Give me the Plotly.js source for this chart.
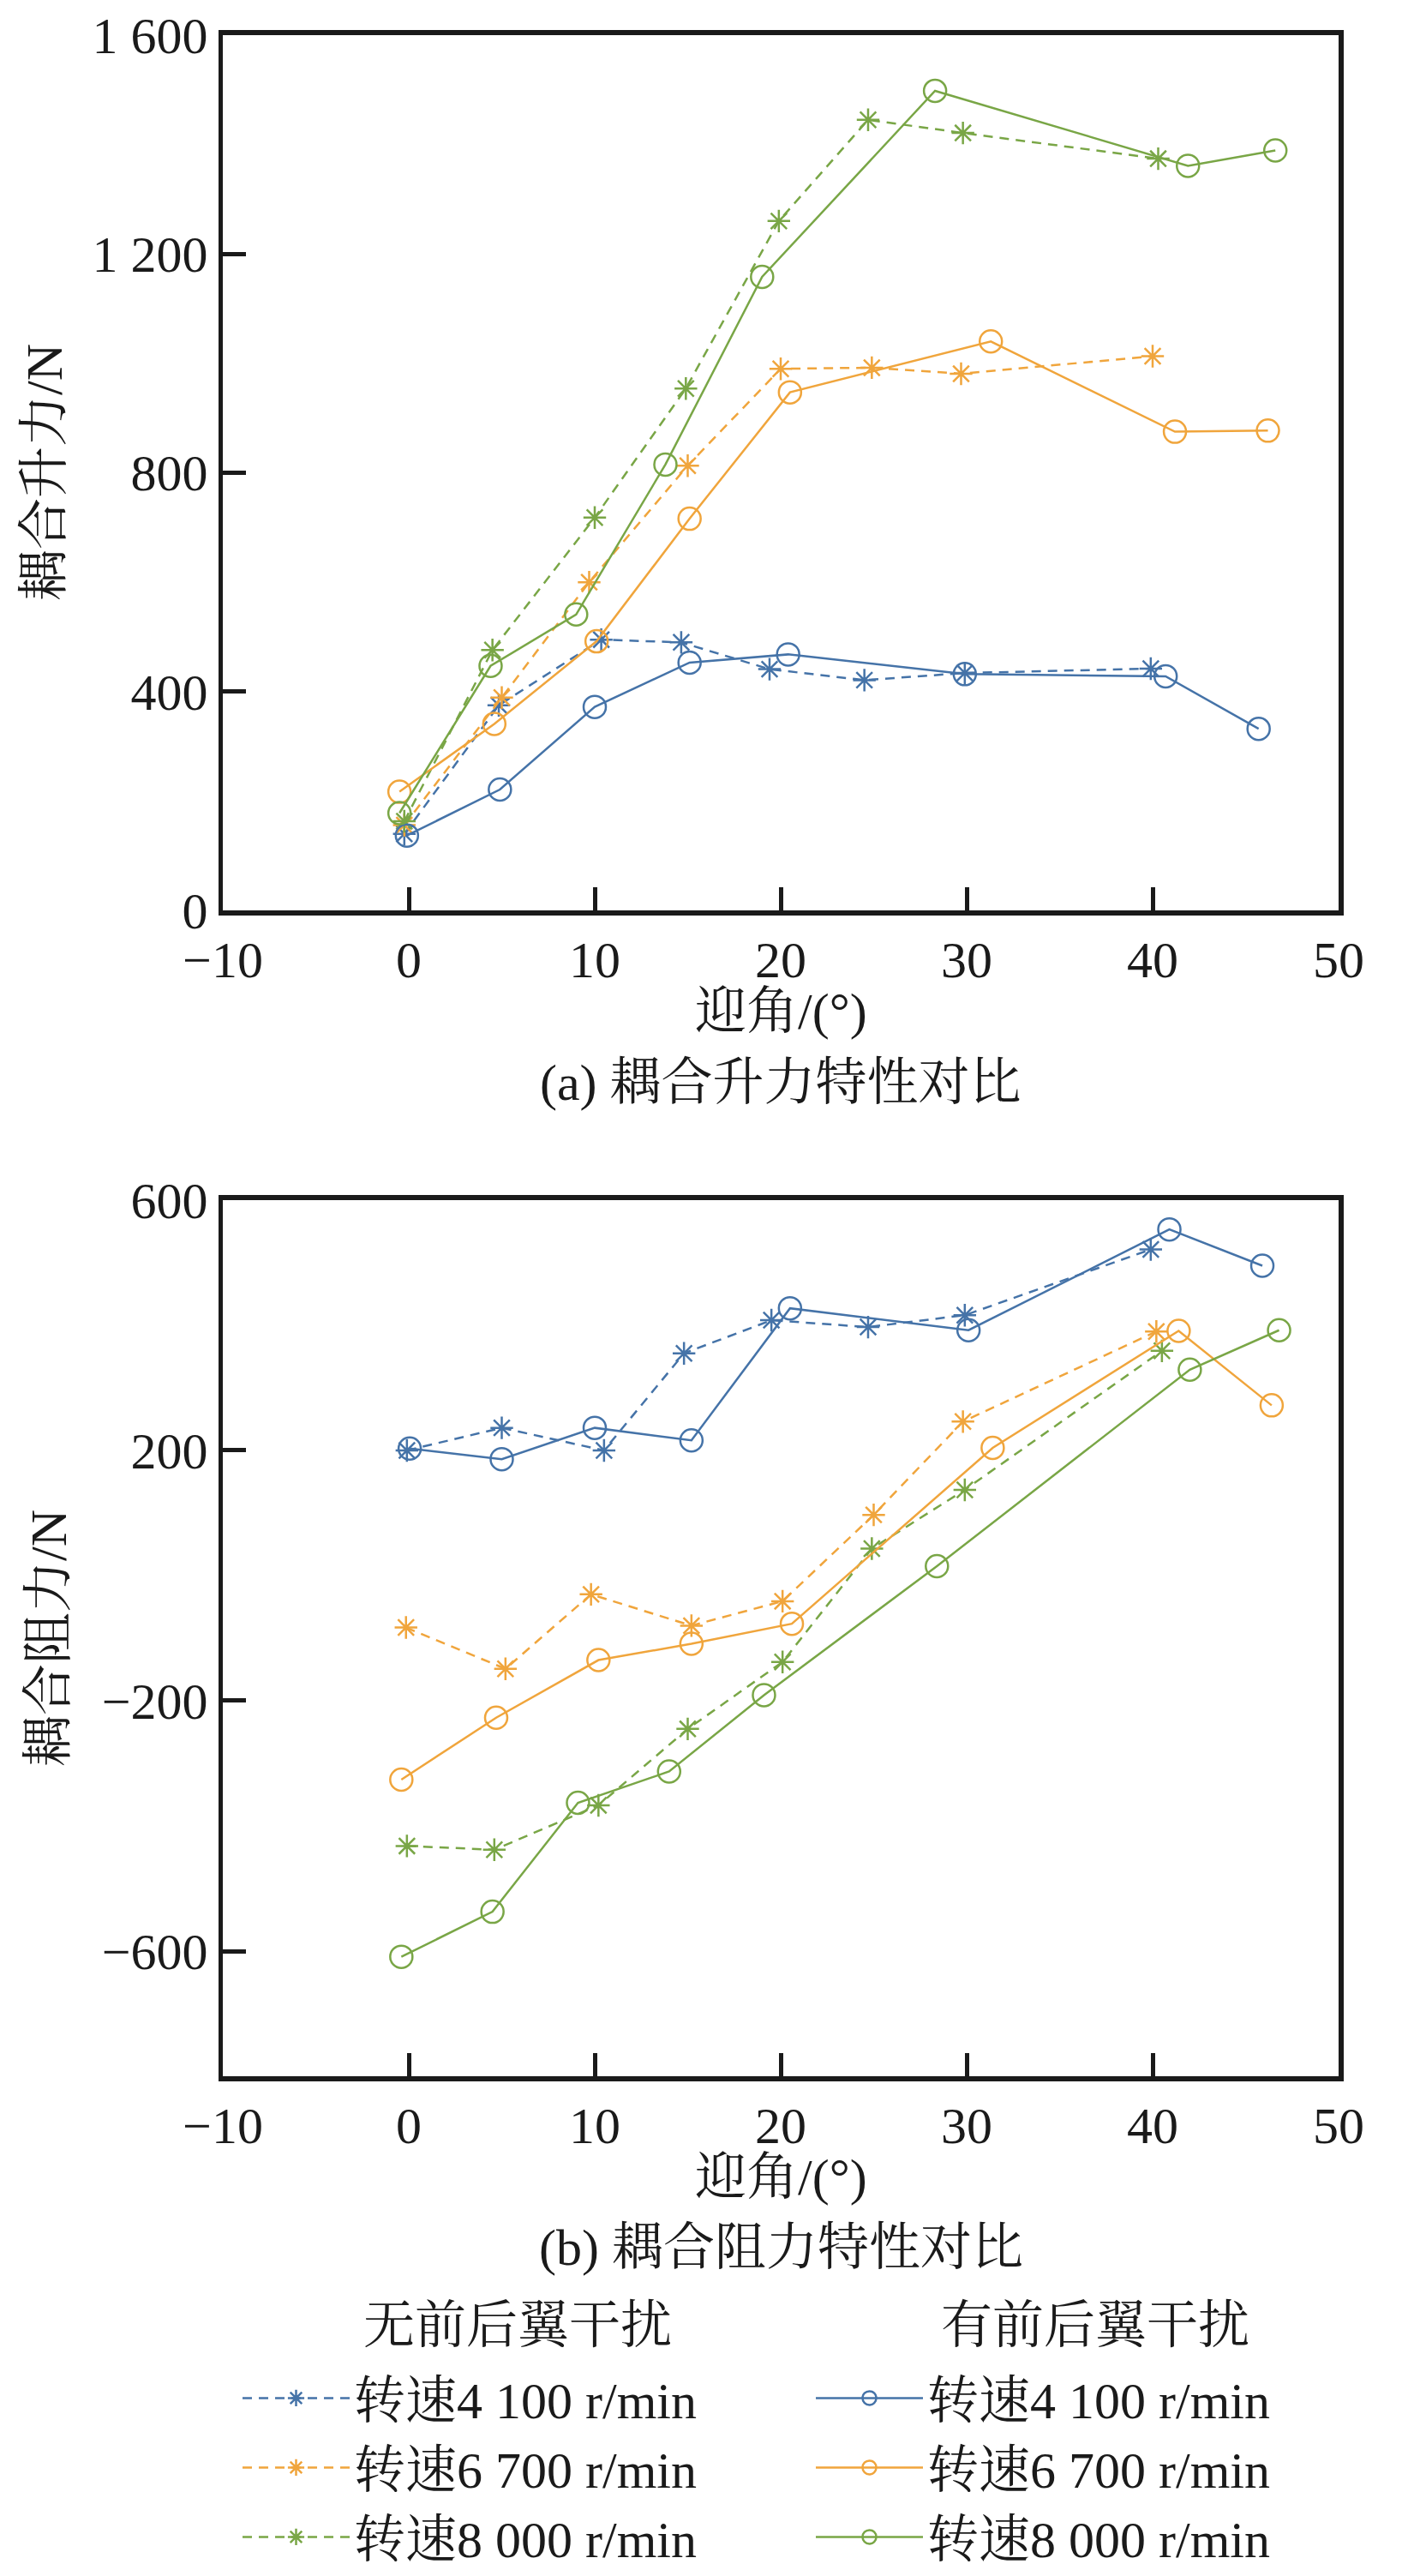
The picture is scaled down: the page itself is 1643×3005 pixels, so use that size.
<!DOCTYPE html>
<html>
<head>
<meta charset="utf-8">
<script src="https://cdn.plot.ly/plotly-3.0.1.min.js"></script>
<style>
  html, body { margin: 0; padding: 0; background: #ffffff; }
  #chart { width: 1643px; height: 3005px; }
</style>
</head>
<body>
<div id="chart"></div>
<script>
// angle of attack (deg) and force values
var liftNoX4100 = [-0.24, 4.84, 10.35, 14.65, 19.4, 24.5, 29.9, 39.9];
var liftNoY4100 = [140, 375, 495, 490, 441, 421, 434, 442];
var liftNoX6700 = [-0.24, 5.0, 9.7, 15.0, 20.0, 24.9, 29.7, 40.0];
var liftNoY6700 = [156, 389, 600, 813, 990, 992, 981, 1013];
var liftNoX8000 = [-0.24, 4.5, 10.0, 14.9, 19.9, 24.7, 29.8, 40.3];
var liftNoY8000 = [163, 476, 718, 954, 1260, 1445, 1421, 1374];

var liftWithX4100 = [-0.1, 4.9, 10.0, 15.1, 20.4, 29.9, 40.7, 45.7];
var liftWithY4100 = [137, 221, 372, 453, 468, 432, 428, 332];
var liftWithX6700 = [-0.5, 4.6, 10.1, 15.1, 20.5, 31.3, 41.2, 46.2];
var liftWithY6700 = [217, 341, 492, 716, 947, 1040, 875, 877];
var liftWithX8000 = [-0.5, 4.4, 9.0, 13.8, 19.0, 28.3, 41.9, 46.6];
var liftWithY8000 = [178, 447, 541, 815, 1158, 1498, 1361, 1389];

var dragNoX4100 = [-0.1, 5.0, 10.5, 14.8, 19.5, 24.7, 29.9, 39.9];
var dragNoY4100 = [200, 236, 200, 355, 408, 397, 416, 521];
var dragNoX6700 = [-0.15, 5.2, 9.8, 15.2, 20.1, 25.0, 29.8, 40.2];
var dragNoY6700 = [-83, -149, -30, -80, -41, 97, 246, 390];
var dragNoX8000 = [-0.1, 4.6, 10.2, 15.0, 20.1, 24.9, 29.9, 40.5];
var dragNoY8000 = [-432, -438, -367, -245, -138, 43, 137, 359];

var dragWithX4100 = [0.05, 5.0, 10.0, 15.2, 20.5, 30.1, 40.9, 45.9];
var dragWithY4100 = [203, 186, 236, 216, 427, 392, 553, 495];
var dragWithX6700 = [-0.4, 4.7, 10.2, 15.2, 20.6, 31.4, 41.4, 46.4];
var dragWithY6700 = [-326, -227, -135, -109, -77, 204, 391, 272];
var dragWithX8000 = [-0.4, 4.5, 9.1, 14.0, 19.1, 28.4, 42.0, 46.8];
var dragWithY8000 = [-609, -537, -363, -313, -191, 15, 329, 392];

var speedNames = ['转速4 100 r/min', '转速6 700 r/min', '转速8 000 r/min'];
var xTicks = [-10, 0, 10, 20, 30, 40, 50];
var xTickText = ['\u221210', '0', '10', '20', '30', '40', '50'];
var liftTicks = [0, 400, 800, 1200, 1600];
var liftTickText = ['0', '400', '800', '1 200', '1 600'];
var dragTicks = [-600, -200, 200, 600];
var dragTickText = ['\u2212600', '\u2212200', '200', '600'];

var W = 1643;
var H = 3005;
var colors = ['#4573a8', '#f0a53c', '#79a646'];
var fontFamily = '"Liberation Serif", "Times New Roman", "Noto Serif CJK SC", "Noto Sans CJK SC", serif';
var ink = '#1a1a1a';

function fx(px) {
  return px / W;
}

function fy(py) {
  return 1 - py / H;
}

function dashed_trace(x, y, i, xa, ya, show) {
  return {
    x: x,
    y: y,
    xaxis: xa,
    yaxis: ya,
    type: 'scatter',
    mode: 'lines+markers',
    name: speedNames[i],
    legend: 'legend',
    showlegend: show,
    line: { color: colors[i], width: 2.5, dash: '11px,8px' },
    marker: {
      symbol: 'asterisk-open',
      size: 22,
      color: colors[i],
      line: { color: colors[i], width: 2.5 }
    }
  };
}

function solid_trace(x, y, i, xa, ya, show) {
  return {
    x: x,
    y: y,
    xaxis: xa,
    yaxis: ya,
    type: 'scatter',
    mode: 'lines+markers',
    name: speedNames[i],
    legend: 'legend2',
    showlegend: show,
    line: { color: colors[i], width: 2.5 },
    marker: {
      symbol: 'circle-open',
      size: 26,
      color: colors[i],
      line: { color: colors[i], width: 2.5 }
    }
  };
}

var traces = [
  dashed_trace(liftNoX4100, liftNoY4100, 0, 'x', 'y', true),
  dashed_trace(liftNoX6700, liftNoY6700, 1, 'x', 'y', true),
  dashed_trace(liftNoX8000, liftNoY8000, 2, 'x', 'y', true),
  solid_trace(liftWithX4100, liftWithY4100, 0, 'x', 'y', true),
  solid_trace(liftWithX6700, liftWithY6700, 1, 'x', 'y', true),
  solid_trace(liftWithX8000, liftWithY8000, 2, 'x', 'y', true),
  dashed_trace(dragNoX4100, dragNoY4100, 0, 'x2', 'y2', false),
  dashed_trace(dragNoX6700, dragNoY6700, 1, 'x2', 'y2', false),
  dashed_trace(dragNoX8000, dragNoY8000, 2, 'x2', 'y2', false),
  solid_trace(dragWithX4100, dragWithY4100, 0, 'x2', 'y2', false),
  solid_trace(dragWithX6700, dragWithY6700, 1, 'x2', 'y2', false),
  solid_trace(dragWithX8000, dragWithY8000, 2, 'x2', 'y2', false)
];

function axis_style(extra) {
  var base = {
    showgrid: false,
    zeroline: false,
    showline: true,
    mirror: true,
    linecolor: ink,
    linewidth: 5.5,
    ticks: 'inside',
    ticklen: 27,
    tickwidth: 5,
    tickcolor: ink,
    tickfont: { family: fontFamily, size: 60, color: ink },
    tickmode: 'array',
    fixedrange: true
  };
  Object.keys(extra).forEach(function (key) {
    base[key] = extra[key];
  });
  return base;
}

function text_note(text, xp, yp, angle, xanchor) {
  return {
    text: text,
    xref: 'paper',
    yref: 'paper',
    x: fx(xp),
    y: fy(yp),
    xanchor: xanchor || 'center',
    yanchor: 'middle',
    showarrow: false,
    textangle: angle || 0,
    font: { family: fontFamily, size: 60, color: ink }
  };
}

var legendBase = {
  xanchor: 'left',
  yanchor: 'top',
  bgcolor: 'rgba(0,0,0,0)',
  borderwidth: 0,
  itemwidth: 125,
  tracegroupgap: 0,
  font: { family: fontFamily, size: 60, color: ink }
};

var layout = {
  width: W,
  height: H,
  margin: { l: 0, r: 0, t: 0, b: 0, pad: 0 },
  paper_bgcolor: '#ffffff',
  plot_bgcolor: '#ffffff',
  showlegend: true,
  xaxis: axis_style({
    domain: [fx(260), fx(1562)],
    anchor: 'y',
    range: [-10, 50],
    tickvals: xTicks,
    ticktext: xTickText
  }),
  yaxis: axis_style({
    domain: [fy(1066), fy(41)],
    anchor: 'x',
    range: [0, 1600],
    tickvals: liftTicks,
    ticktext: liftTickText
  }),
  xaxis2: axis_style({
    domain: [fx(260), fx(1562)],
    anchor: 'y2',
    range: [-10, 50],
    tickvals: xTicks,
    ticktext: xTickText
  }),
  yaxis2: axis_style({
    domain: [fy(2431), fy(1405)],
    anchor: 'x2',
    range: [-800, 600],
    tickvals: dragTicks,
    ticktext: dragTickText
  }),
  legend: Object.assign({}, legendBase, { x: fx(278), y: fy(2762) }),
  legend2: Object.assign({}, legendBase, { x: fx(947), y: fy(2762) }),
  annotations: [
    text_note('迎角/(°)', 911, 1184),
    text_note('(a) 耦合升力特性对比', 911, 1268),
    text_note('耦合升力/N', 52, 553, -90),
    text_note('迎角/(°)', 911, 2549),
    text_note('(b) 耦合阻力特性对比', 911, 2632),
    text_note('耦合阻力/N', 57, 1918, -90),
    text_note('无前后翼干扰', 422, 2723, 0, 'left'),
    text_note('有前后翼干扰', 1096, 2723, 0, 'left')
  ]
};

var config = {
  responsive: false,
  displayModeBar: false,
  staticPlot: true
};

Plotly.newPlot('chart', traces, layout, config);
</script>
</body>
</html>
